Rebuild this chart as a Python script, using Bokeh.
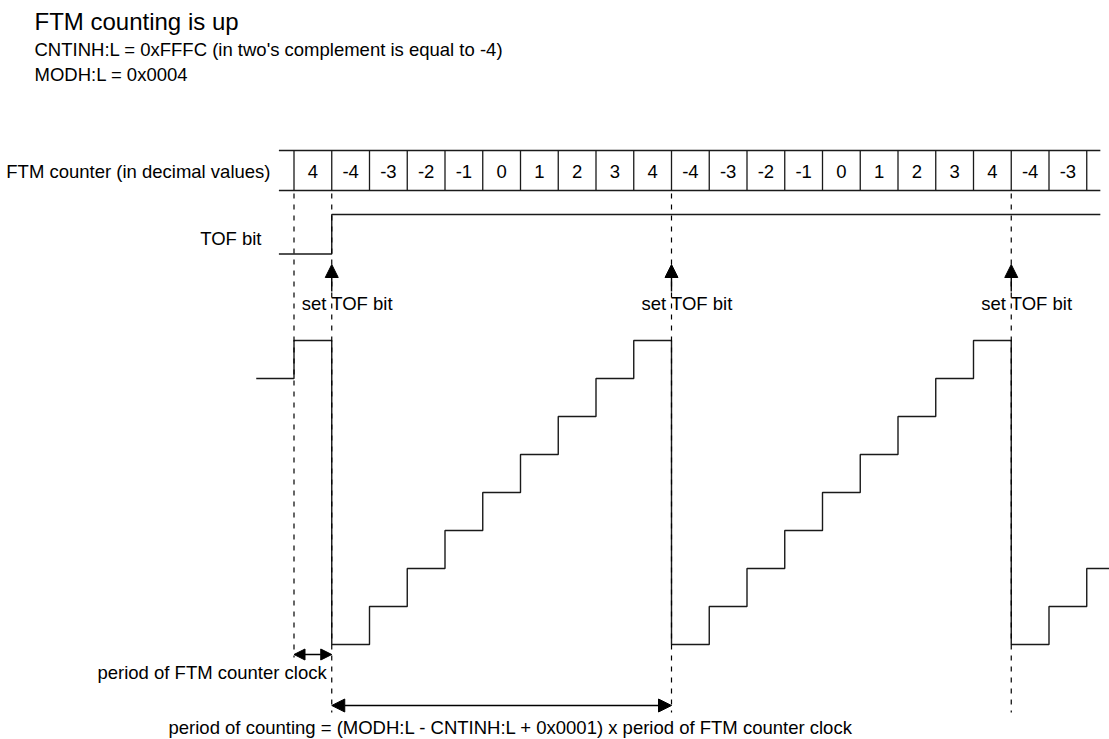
from bokeh.plotting import figure
from bokeh.models import Range1d, Arrow, NormalHead
from bokeh.core.properties import value
from bokeh.embed import file_html
from bokeh.resources import INLINE

# ---------------- data ----------------
title_lines = ["FTM counting is up",
               "CNTINH:L = 0xFFFC (in two's complement is equal to -4)",
               "MODH:L = 0x0004"]
counter_values = [4, -4, -3, -2, -1, 0, 1, 2, 3, 4, -4, -3, -2, -1, 0, 1, 2, 3, 4, -4, -3]
wave_start_cycle = -1
wave_values = [3, 4, -4, -3, -2, -1, 0, 1, 2, 3, 4, -4, -3, -2, -1, 0, 1, 2, 3, 4, -4, -3, -2]
tof_times = [-0.4, 1, 21.36]
tof_levels = [0, 1, 1]
overflow_cycles = [1, 10, 19]
clock_period = [0, 1]
count_period = [1, 10]
row_label = "FTM counter (in decimal values)"
tof_label = "TOF bit"
set_label = "set TOF bit"
clock_label = "period of FTM counter clock"
count_label = "period of counting = (MODH:L - CNTINH:L + 0x0001) x period of FTM counter clock"

# ---------------- layout ----------------
W, H = 1109, 739
X0, CELL = 293.5, 37.75          # page px of cycle 0, px per cycle
WAVE0, STEP = 492.0, 38.0        # page px of count 0, px per count
TOF0, TOFH = 253.5, 39.5
FONT = value("Liberation Sans")
INK = "#1a1a1a"

p = figure(width=W, height=H, output_backend="svg", toolbar_location=None,
           x_range=Range1d(0, W), y_range=Range1d(H, 0),
           x_axis_type=None, y_axis_type=None, min_border=0,
           outline_line_color=None, background_fill_color="white",
           border_fill_color="white")
p.grid.visible = False
p.extra_x_ranges["cycle"] = Range1d((0 - X0) / CELL, (W - X0) / CELL)
p.extra_y_ranges["count"] = Range1d((WAVE0 - H) / STEP, (WAVE0 - 0) / STEP)
p.extra_y_ranges["tof"] = Range1d((TOF0 - H) / TOFH, (TOF0 - 0) / TOFH)

# header texts
p.text(x=[34, 34, 34], y=[21, 49, 74], text=title_lines,
       text_font=FONT, text_font_size=["24px", "18.5px", "18.5px"],
       text_baseline="middle", text_align="left", text_color="black")

# counter row
n = len(counter_values)
row_top, row_bot = 150, 190
p.segment(x0=list(range(n + 1)), x1=list(range(n + 1)),
          y0=[row_top] * (n + 1), y1=[row_bot] * (n + 1),
          x_range_name="cycle", line_color=INK, line_width=1.3)
p.segment(x0=[tof_times[0]] * 2, x1=[tof_times[-1]] * 2, y0=[row_top, row_bot],
          y1=[row_top, row_bot], x_range_name="cycle", line_color=INK, line_width=1.3)
p.text(x=[i + 0.5 for i in range(n)], y=[171] * n, text=[str(v) for v in counter_values],
       x_range_name="cycle", text_font=FONT, text_font_size="18.5px",
       text_align="center", text_baseline="middle", text_color="black")
p.text(x=[270], y=[171], text=[row_label], text_font=FONT, text_font_size="18.5px",
       text_align="right", text_baseline="middle", text_color="black")

# TOF bit
p.step(x=tof_times, y=tof_levels, mode="after", x_range_name="cycle",
       y_range_name="tof", line_color=INK, line_width=1.4)
p.text(x=[261], y=[238], text=[tof_label], text_font=FONT, text_font_size="18.5px",
       text_align="right", text_baseline="middle", text_color="black")

# counter waveform
wx = [wave_start_cycle + i for i in range(len(wave_values) + 1)]
wy = wave_values + [wave_values[-1]]
p.step(x=wx, y=wy, mode="after", x_range_name="cycle", y_range_name="count",
       line_color=INK, line_width=1.4)

# dashed guide lines
guides = [clock_period[0]] + overflow_cycles
p.segment(x0=guides, x1=guides, y0=[193] * len(guides),
          y1=[657] + [712] * len(overflow_cycles),
          x_range_name="cycle", line_color="black", line_width=1.2, line_dash="5 6")

# set TOF bit arrows
for c in overflow_cycles:
    p.add_layout(Arrow(x_start=c, x_end=c, y_start=291, y_end=264, x_range_name="cycle",
                       line_color="black", line_width=1.4,
                       end=NormalHead(size=13, fill_color="black", line_color="black",
                                      line_width=1)))
p.text(x=overflow_cycles, y=[303] * len(overflow_cycles), text=[set_label] * len(overflow_cycles),
       x_range_name="cycle", x_offset=-30, text_font=FONT, text_font_size="18.5px",
       text_align="left", text_baseline="middle", text_color="black")

# period arrows
def head(s):
    return NormalHead(size=s, fill_color="black", line_color="black", line_width=1)

p.add_layout(Arrow(x_start=clock_period[0], x_end=clock_period[1], y_start=654, y_end=654,
                   x_range_name="cycle", line_color="black", line_width=1.4,
                   start=head(11), end=head(11)))
p.text(x=[clock_period[1]], y=[672], text=[clock_label], x_range_name="cycle", x_offset=-5,
       text_font=FONT, text_font_size="18.5px", text_align="right",
       text_baseline="middle", text_color="black")
p.add_layout(Arrow(x_start=count_period[0], x_end=count_period[1], y_start=705, y_end=705,
                   x_range_name="cycle", line_color="black", line_width=1.4,
                   start=head(13), end=head(13)))
p.text(x=[168], y=[727], text=[count_label], text_font=FONT, text_font_size="18.5px",
       text_align="left", text_baseline="middle", text_color="black")

open("out.html", "w").write(file_html(p, INLINE))
